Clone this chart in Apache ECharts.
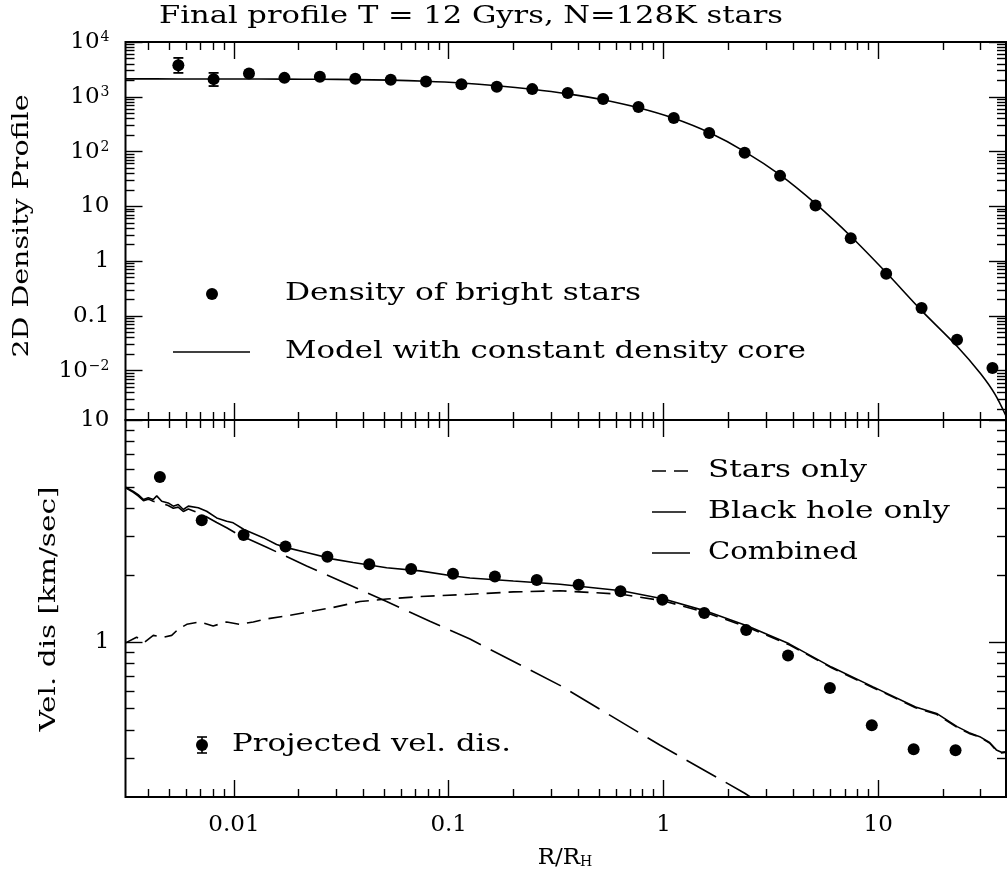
<!DOCTYPE html>
<html><head><meta charset="utf-8">
<script src="https://cdn.jsdelivr.net/npm/echarts@6/dist/echarts.min.js"></script>
<style>html,body{margin:0;padding:0;background:#fff}#c{width:1007px;height:878px}</style>
</head><body><div id="c"></div>
<script>
// ---------- data ----------
const titleText = 'Final profile T = 12 Gyrs, N=128K stars';
const xTickValues = [0.01, 0.1, 1, 10];
const xTickLabels = ['0.01', '0.1', '1', '10'];
const densTickValues = [1e4, 1e3, 1e2, 10, 1, 0.1, 0.01];
const densTickLabels = ['10{s|4}', '10{s|3}', '10{s|2}', '10', '1', '0.1', '10{s|−2}'];
const velTickValues = [1, 10];
const velTickLabels = ['1', '10'];

const densR = [0.00551, 0.00804, 0.01175, 0.01718, 0.02512, 0.03673, 0.0537, 0.0784, 0.1146, 0.1675, 0.2449, 0.3581, 0.5236, 0.7645, 1.117, 1.633, 2.388, 3.491, 5.105, 7.447, 10.89, 15.92, 23.28, 34.04];
const densVal = [3770, 2100, 2660, 2214, 2310, 2125, 2037, 1905, 1700, 1520, 1380, 1170, 910, 650, 410, 219, 95, 36, 10.4, 2.62, 0.59, 0.14, 0.0366, 0.0112];
const densErrR = [0.00551, 0.00804, 0.01175];
const densErrLo = [2730, 1570, 2400];
const densErrHi = [5120, 2730, 2950];

const modelR = [0.00313, 0.0055, 0.01, 0.0172, 0.0251, 0.0367, 0.0537, 0.0784, 0.1146, 0.1675, 0.2449, 0.3581, 0.5236, 0.7645, 1.117, 1.633, 2.388, 3.491, 5.105, 7.447, 10.89, 15.92, 23.28, 30, 35, 40];
const modelVal = [2120, 2118, 2112, 2100, 2085, 2060, 2010, 1920, 1780, 1590, 1370, 1130, 880, 630, 405, 222, 100, 37.5, 11.2, 2.85, 0.62, 0.125, 0.028, 0.0088, 0.0037, 0.0013];

const velR = [0.00452, 0.00708, 0.01109, 0.01738, 0.02723, 0.04266, 0.06683, 0.1047, 0.1641, 0.2570, 0.4027, 0.6310, 0.9886, 1.549, 2.427, 3.802, 5.957, 9.333, 14.62, 22.91];
const velVal = [5.53, 3.53, 3.03, 2.69, 2.42, 2.24, 2.13, 2.03, 1.97, 1.90, 1.81, 1.69, 1.55, 1.35, 1.13, 0.869, 0.620, 0.421, 0.328, 0.325];

const combR = [0.00313, 0.0034, 0.00358, 0.00379, 0.00399, 0.00421, 0.00437, 0.00461, 0.00494, 0.00522, 0.0055, 0.00581, 0.00613, 0.00682, 0.00746, 0.00831, 0.00925, 0.00992, 0.01113, 0.01369, 0.0158, 0.01759, 0.0218, 0.029, 0.0359, 0.0514, 0.0735, 0.105, 0.1256, 0.2, 0.3296, 0.638, 1.004, 1.563, 2.464, 3.85, 6.06, 9.47, 14.92, 18.7, 23.3, 26.5, 29.7, 33.0, 35.5, 37.5, 39.5];
const combVal = [4.98, 4.77, 4.61, 4.38, 4.46, 4.38, 4.55, 4.30, 4.23, 4.09, 4.16, 3.95, 4.09, 4.02, 3.88, 3.62, 3.50, 3.44, 3.21, 2.95, 2.75, 2.66, 2.53, 2.36, 2.28, 2.16, 2.09, 1.98, 1.94, 1.88, 1.82, 1.70, 1.56, 1.38, 1.18, 0.98, 0.77, 0.627, 0.509, 0.476, 0.415, 0.39, 0.374, 0.352, 0.326, 0.318, 0.32];

const starsR = [0.00313, 0.00352, 0.00385, 0.00421, 0.00469, 0.00513, 0.0055, 0.00603, 0.00695, 0.008, 0.00925, 0.01066, 0.0123, 0.0142, 0.01759, 0.0218, 0.029, 0.0386, 0.0514, 0.0735, 0.1256, 0.2, 0.3296, 0.638, 1.004, 1.563, 2.464, 3.85, 6.06, 9.47, 14.92, 18.7, 23.3, 26.5, 29.7, 33.0, 35.5, 37.5, 39.5];
const starsVal = [0.99, 1.05, 1.00, 1.07, 1.05, 1.07, 1.14, 1.20, 1.23, 1.18, 1.23, 1.20, 1.23, 1.27, 1.31, 1.36, 1.43, 1.52, 1.56, 1.60, 1.64, 1.68, 1.70, 1.64, 1.53, 1.36, 1.165, 0.97, 0.765, 0.622, 0.505, 0.472, 0.412, 0.387, 0.372, 0.35, 0.324, 0.316, 0.318];

const bhR = [0.00313, 0.0034, 0.00358, 0.00379, 0.00399, 0.00421, 0.00461, 0.00494, 0.00522, 0.0055, 0.00581, 0.00613, 0.00695, 0.00831, 0.00925, 0.01047, 0.0142, 0.0218, 0.0335, 0.0514, 0.0817, 0.1256, 0.3296, 0.9616, 2.39, 2.6];
const bhVal = [4.95, 4.72, 4.55, 4.33, 4.40, 4.30, 4.22, 4.12, 4.00, 4.05, 3.87, 3.97, 3.80, 3.45, 3.27, 3.05, 2.67, 2.20, 1.83, 1.52, 1.24, 1.03, 0.637, 0.343, 0.208, 0.197];

// ---------- helpers ----------
const L = Math.log10;
const SERIF = '"DejaVu Serif"';
const X_MIN = -2.505, X_MAX = 1.595;
const Y0_MIN = -2.9, Y0_MAX = 4;
const Y1_MIN = L(0.2), Y1_MAX = 1;

function minorLog(lo, hi) {
  const out = [];
  for (let d = Math.floor(lo) - 1; d <= Math.ceil(hi); d++) {
    for (let k = 2; k <= 9; k++) {
      const v = L(k) + d;
      if (v > lo + 1e-6 && v < hi - 1e-6) out.push(v);
    }
  }
  return out;
}
function labelFor(v, vals, labels) {
  for (let i = 0; i < vals.length; i++) if (Math.abs(vals[i] - v) < 1e-6) return labels[i];
  return '';
}
const pairs = (xs, ys) => xs.map((x, i) => [L(x), L(ys[i])]);

const tickStyle = { color: '#000', width: 1.4 };
const xMajor = xTickValues.map(L);
const xMinor = minorLog(X_MIN, X_MAX);

function xAxisSet(g, showLabels) {
  const out = [];
  for (const pos of ['bottom', 'top']) for (const major of [true, false]) {
    out.push({
      gridIndex: g, type: 'value', min: X_MIN, max: X_MAX, position: pos,
      axisLine: { show: false, onZero: false }, splitLine: { show: false },
      axisTick: { show: true, inside: true, length: major ? 17 : 8, customValues: major ? xMajor : xMinor, lineStyle: tickStyle },
      axisLabel: (showLabels && pos === 'bottom' && major) ? {
        show: true, customValues: xMajor, formatter: v => labelFor(v, xMajor, xTickLabels),
        margin: 17, color: '#000', fontFamily: SERIF, fontSize: 23
      } : { show: false }
    });
  }
  return out;
}
function yAxisSet(g, lo, hi, majorVals, labels) {
  const major = majorVals.map(L);
  const minor = minorLog(lo, hi);
  const out = [];
  for (const pos of ['left', 'right']) for (const isMajor of [true, false]) {
    out.push({
      gridIndex: g, type: 'value', min: lo, max: hi, position: pos,
      axisLine: { show: false, onZero: false }, splitLine: { show: false },
      axisTick: { show: true, inside: true, length: isMajor ? 17 : 9, customValues: isMajor ? major : minor, lineStyle: tickStyle },
      axisLabel: (pos === 'left' && isMajor) ? {
        show: true, customValues: major, formatter: v => labelFor(v, major, labels),
        margin: 16, color: '#000', fontFamily: SERIF, fontSize: 23,
        rich: { s: { fontFamily: SERIF, fontSize: 14, color: '#000', verticalAlign: 'top', padding: [0, 0, 6, 1] } }
      } : { show: false }
    });
  }
  return out;
}

const mctx = document.createElement('canvas').getContext('2d');
function fitText(text, x, y, width, size, rotation, align) {
  const font = size + 'px ' + SERIF;
  mctx.font = font;
  const w = mctx.measureText(text).width;
  const sx = w > 0 ? width / w : 1;
  const a = align || 'left';
  return {
    type: 'text', x: x, y: y, rotation: rotation || 0, scaleX: sx, z: 100,
    style: { text: text, font: font, fill: '#000', textAlign: a, align: a, textVerticalAlign: 'middle', verticalAlign: 'middle' }
  };
}
function seg(x1, y1, x2, y2, dash) {
  return { type: 'line', z: 100, shape: { x1, y1, x2, y2 }, style: { stroke: '#000', lineWidth: 1.6, lineDash: dash || null } };
}

const SHORT_DASH = [14, 8];
const LONG_DASH = [34, 11];

const option = {
  animation: false,
  backgroundColor: '#fff',
  grid: [
    { left: 125.5, right: 1, top: 42, height: 378, show: true, borderColor: '#000', borderWidth: 2, backgroundColor: 'transparent', containLabel: false, outerBoundsMode: 'none' },
    { left: 125.5, right: 1, top: 420, height: 377, show: true, borderColor: '#000', borderWidth: 2, backgroundColor: 'transparent', containLabel: false, outerBoundsMode: 'none' }
  ],
  xAxis: [].concat(xAxisSet(0, false), xAxisSet(1, true)),
  yAxis: [].concat(yAxisSet(0, Y0_MIN, Y0_MAX, densTickValues, densTickLabels), yAxisSet(1, Y1_MIN, Y1_MAX, velTickValues, velTickLabels)),
  series: [
    { name: 'Model with constant density core', type: 'line', xAxisIndex: 0, yAxisIndex: 0, data: pairs(modelR, modelVal), showSymbol: false, smooth: 0.3, clip: true, lineStyle: { color: '#000', width: 1.6 }, z: 2 },
    { name: 'Density of bright stars', type: 'scatter', xAxisIndex: 0, yAxisIndex: 0, data: pairs(densR, densVal), symbolSize: 12, itemStyle: { color: '#000', opacity: 1 }, z: 3 },
    { name: 'density errors', type: 'custom', xAxisIndex: 0, yAxisIndex: 0,
      data: densErrR.map((r, i) => [L(r), L(densErrLo[i]), L(densErrHi[i])]),
      encode: { x: 0, y: [1, 2] }, z: 3,
      renderItem: function (params, api) {
        const x = api.value(0);
        const a = api.coord([x, api.value(1)]);
        const b = api.coord([x, api.value(2)]);
        const w = 5, st = { stroke: '#000', lineWidth: 1.8 };
        return { type: 'group', children: [
          { type: 'line', shape: { x1: a[0], y1: a[1], x2: b[0], y2: b[1] }, style: st },
          { type: 'line', shape: { x1: a[0] - w, y1: a[1], x2: a[0] + w, y2: a[1] }, style: st },
          { type: 'line', shape: { x1: b[0] - w, y1: b[1], x2: b[0] + w, y2: b[1] }, style: st }
        ] };
      }
    },
    { name: 'Stars only', type: 'line', xAxisIndex: 4, yAxisIndex: 4, data: pairs(starsR, starsVal), showSymbol: false, clip: true, lineStyle: { color: '#000', width: 1.6, type: SHORT_DASH }, z: 2 },
    { name: 'Black hole only', type: 'line', xAxisIndex: 4, yAxisIndex: 4, data: pairs(bhR, bhVal), showSymbol: false, clip: true, lineStyle: { color: '#000', width: 1.6, type: LONG_DASH }, z: 2 },
    { name: 'Combined', type: 'line', xAxisIndex: 4, yAxisIndex: 4, data: pairs(combR, combVal), showSymbol: false, clip: true, lineStyle: { color: '#000', width: 1.6 }, z: 2 },
    { name: 'Projected vel. dis.', type: 'scatter', xAxisIndex: 4, yAxisIndex: 4, data: pairs(velR, velVal), symbolSize: 12, itemStyle: { color: '#000', opacity: 1 }, z: 3 }
  ],
  graphic: [
    fitText(titleText, 159, 17, 624, 24),
    fitText('2D Density Profile', 22.5, 226, 263, 23, Math.PI / 2, 'center'),
    fitText('Vel. dis [km/sec]', 49, 609, 245, 22, Math.PI / 2, 'center'),
    { type: 'text', x: 565, y: 858, z: 100, style: { text: '{a|R/R}{b|H}', textAlign: 'center', align: 'center', textVerticalAlign: 'middle', verticalAlign: 'middle', fill: '#000',
      rich: { a: { fontFamily: SERIF, fontSize: 23, color: '#000' }, b: { fontFamily: SERIF, fontSize: 14, color: '#000', verticalAlign: 'bottom', padding: [8, 0, 0, 0] } } } },
    // top legend
    { type: 'circle', z: 100, shape: { cx: 212, cy: 294, r: 6 }, style: { fill: '#000' } },
    fitText('Density of bright stars', 285, 294, 356, 24),
    seg(173, 352, 250, 352),
    fitText('Model with constant density core', 285, 352, 521, 24),
    // bottom legend
    seg(652, 471, 690, 471, SHORT_DASH),
    fitText('Stars only', 708, 471, 159, 24),
    seg(652, 512, 690, 512, LONG_DASH),
    fitText('Black hole only', 708, 512, 242, 24),
    seg(652, 553, 690, 553),
    fitText('Combined', 708, 553, 150, 24),
    { type: 'circle', z: 100, shape: { cx: 202, cy: 745, r: 6 }, style: { fill: '#000' } },
    seg(202, 737, 202, 753), seg(197, 737, 207, 737), seg(197, 753, 207, 753),
    fitText('Projected vel. dis.', 232, 745, 279, 24)
  ]
};

const chart = echarts.init(document.getElementById('c'), null, { renderer: 'canvas' });
chart.setOption(option);
</script>
</body></html>
